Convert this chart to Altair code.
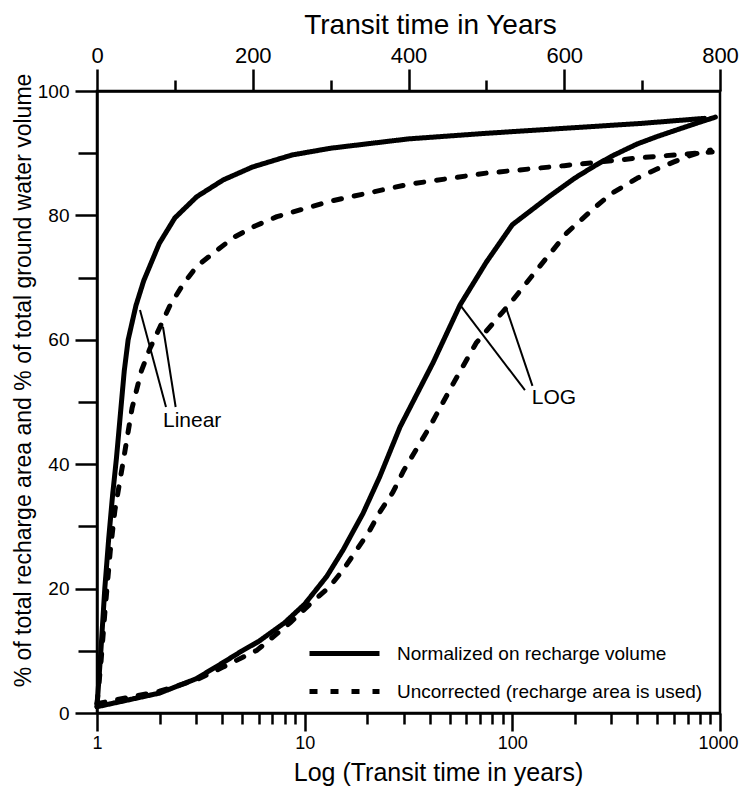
import altair as alt
import pandas as pd

SOLID = "Normalized on recharge volume"
DASH = "Uncorrected (recharge area is used)"

# ---- curves against linear transit time (top axis, years) ----
lin_solid_t = [0, 5, 10, 15, 20, 25, 30, 35, 40, 50, 60, 80, 100, 128, 162, 200, 250, 300, 400, 500, 600, 700, 780]
lin_solid_pct = [1, 10, 20, 28, 35, 41, 48, 55, 60, 65.5, 69.5, 75.5, 79.6, 83, 85.7, 87.8, 89.7, 90.8, 92.3, 93.2, 94, 94.8, 95.6]

lin_dash_t = [0, 5, 10, 17, 23, 34, 45, 57, 68, 81, 94, 110, 128, 152, 176, 203, 231, 300, 400, 500, 600, 700, 790]
lin_dash_pct = [1.5, 8, 16, 26, 32.6, 40.7, 49, 55, 58.6, 62.1, 65.6, 68.8, 71.8, 74.2, 76.5, 78.3, 79.8, 82.3, 85, 86.8, 88, 89.3, 90.2]

# ---- curves against log transit time (bottom axis, years) ----
log_solid_T = [1, 2, 3, 4, 5, 6, 8, 10, 12.8, 15.3, 19.1, 23, 28.8, 41.5, 56, 75, 100, 150, 200, 250, 300, 400, 500, 600, 800, 950]
log_solid_pct = [1, 3.2, 5.5, 8, 10, 11.5, 14.5, 17.5, 22, 26.2, 32.1, 38, 46, 56.3, 65.6, 72.5, 78.5, 83, 86, 88, 89.5, 91.5, 92.7, 93.6, 95, 95.8]

log_dash_T = [1, 2, 3, 4, 5.9, 8.5, 10.6, 13.2, 15.3, 17.8, 20.6, 23, 26.6, 30, 40, 52, 67, 90, 100, 126, 183, 250, 300, 400, 500, 600, 700, 800, 900]
log_dash_pct = [1.5, 3.5, 5.3, 7.3, 10.1, 14.5, 17.5, 20.3, 23, 26.2, 29.4, 32.3, 35.5, 39, 46, 53, 59.5, 64.5, 66.3, 70.5, 77.2, 81.3, 83.5, 86, 87.5, 88.6, 89.5, 90.1, 90.5]

# ---- annotation pointers (data units) ----
lin_ptr_t = [55.2, 84.7]
lin_ptr_pct = [64.8, 62.1]
lin_ptr_t2 = [88.6, 101]
lin_ptr_pct2 = [49.2, 49.2]
lin_label = ["Linear"]
lin_label_t = [84.7]
lin_label_pct = [46.9]

log_ptr_T = [56, 93]
log_ptr_pct = [65.6, 65.3]
log_ptr_T2 = [115, 125]
log_ptr_pct2 = [51.9, 52.6]
log_label = ["LOG"]
log_label_T = [124]
log_label_pct = [50.6]

FONT = "Liberation Sans"


def frame(xs, ys, xname, series):
    return pd.DataFrame({xname: xs, "pct": ys, "series": series, "i": range(len(xs))})


lin_df = pd.concat([frame(lin_solid_t, lin_solid_pct, "t", SOLID),
                    frame(lin_dash_t, lin_dash_pct, "t", DASH)])
log_df = pd.concat([frame(log_solid_T, log_solid_pct, "T", SOLID),
                    frame(log_dash_T, log_dash_pct, "T", DASH)])

dash_scale = alt.Scale(domain=[SOLID, DASH], range=[[1, 0], [8, 13]])
y_scale = alt.Scale(domain=[0, 100], nice=False, zero=False)
lin_scale = alt.Scale(domain=[0, 800], nice=False, zero=False)
log_scale = alt.Scale(type="log", domain=[1, 1000], nice=False)

common_axis = dict(grid=False, titleFontWeight="normal", titleFont=FONT, labelFont=FONT,
                   labelColor="black", titleColor="black", tickColor="black", tickWidth=2.5,
                   domainColor="black", domainWidth=2.5, labelFlush=False, labelOverlap=False)

y_axis = alt.Axis(
    values=list(range(0, 101, 10)),
    labelExpr="datum.value % 20 === 0 ? datum.label : ''",
    tickSize={"condition": {"test": "datum.value % 20 === 0", "value": 22}, "value": 19},
    title="% of total recharge area  and % of total ground water volume",
    titleFontSize=23, labelFontSize=19, labelPadding=6, titlePadding=2,
    titleY=289, titleAlign="center",
    **common_axis,
)

top_axis = alt.Axis(
    orient="top",
    values=list(range(0, 801, 100)),
    labelExpr="datum.value % 200 === 0 ? datum.label : ''",
    tickSize={"condition": {"test": "datum.value % 200 === 0", "value": 22}, "value": 11},
    title="Transit time in Years",
    titleFontSize=28, labelFontSize=22, labelPadding=2,
    titleX=333, titleY=-58, titleAlign="center", titleBaseline="alphabetic",
    **common_axis,
)

decades = "indexof([1,10,100,1000], datum.value) >= 0"
log_vals = [m * 10 ** e for e in range(3) for m in range(1, 10)] + [1000]
bottom_axis = alt.Axis(
    orient="bottom",
    values=log_vals,
    labelExpr=decades + " ? '' + datum.value : ''",
    tickSize={"condition": {"test": decades, "value": 18}, "value": 11},
    labelOffset={"condition": {"test": "datum.value === 1000", "value": -2}, "value": 0},
    title="Log (Transit time in years)",
    titleFontSize=25, labelFontSize=18, labelPadding=3,
    titleX=341, titleY=67, titleAlign="center", titleBaseline="alphabetic",
    **common_axis,
)

legend = alt.Legend(
    orient="none", legendX=235, legendY=550, title=None,
    symbolType="M-3.5,0H3.5", symbolSize=400, symbolStrokeWidth=5,
    symbolStrokeColor="black", labelOffset=40, labelFontSize=19,
    labelFont=FONT, labelColor="black", rowPadding=15, labelLimit=0,
)

line_kw = dict(color="black", strokeWidth=5, strokeCap="round", strokeJoin="round")

lin_lines = alt.Chart(lin_df).mark_line(**line_kw).encode(
    x=alt.X("t:Q", scale=lin_scale, axis=top_axis),
    y=alt.Y("pct:Q", scale=y_scale, axis=y_axis),
    strokeDash=alt.StrokeDash("series:N", scale=dash_scale, legend=legend),
    order="i:Q",
)

log_lines = alt.Chart(log_df).mark_line(**line_kw).encode(
    x=alt.X("T:Q", scale=log_scale, axis=bottom_axis),
    y=alt.Y("pct:Q", scale=y_scale, axis=y_axis),
    strokeDash=alt.StrokeDash("series:N", scale=dash_scale, legend=legend),
    order="i:Q",
)

lin_ptr = alt.Chart(pd.DataFrame({"t": lin_ptr_t, "pct": lin_ptr_pct, "t2": lin_ptr_t2, "pct2": lin_ptr_pct2})).mark_rule(
    color="black", strokeWidth=2).encode(
    x=alt.X("t:Q", scale=lin_scale, axis=top_axis), x2="t2:Q",
    y=alt.Y("pct:Q", scale=y_scale, axis=y_axis), y2="pct2:Q")
lin_txt = alt.Chart(pd.DataFrame({"t": lin_label_t, "pct": lin_label_pct, "txt": lin_label})).mark_text(
    align="left", baseline="middle", fontSize=21, font=FONT, color="black").encode(
    x=alt.X("t:Q", scale=lin_scale, axis=top_axis), y=alt.Y("pct:Q", scale=y_scale, axis=y_axis), text="txt:N")

log_ptr = alt.Chart(pd.DataFrame({"T": log_ptr_T, "pct": log_ptr_pct, "T2": log_ptr_T2, "pct2": log_ptr_pct2})).mark_rule(
    color="black", strokeWidth=2).encode(
    x=alt.X("T:Q", scale=log_scale, axis=bottom_axis), x2="T2:Q",
    y=alt.Y("pct:Q", scale=y_scale, axis=y_axis), y2="pct2:Q")
log_txt = alt.Chart(pd.DataFrame({"T": log_label_T, "pct": log_label_pct, "txt": log_label})).mark_text(
    align="left", baseline="middle", fontSize=21, font=FONT, color="black").encode(
    x=alt.X("T:Q", scale=log_scale, axis=bottom_axis), y=alt.Y("pct:Q", scale=y_scale, axis=y_axis), text="txt:N")

lin_layer = alt.layer(lin_lines, lin_ptr, lin_txt)
log_layer = alt.layer(log_lines, log_ptr, log_txt)

chart = alt.layer(lin_layer, log_layer).resolve_scale(x="independent").properties(
    width=623, height=622, autosize="none",
    padding={"left": 89, "top": 83, "right": 19, "bottom": 73},
    background="white",
).configure_view(stroke="black", strokeWidth=2.5)

chart.save("out.html", embed_options={"renderer": "svg", "actions": False})
